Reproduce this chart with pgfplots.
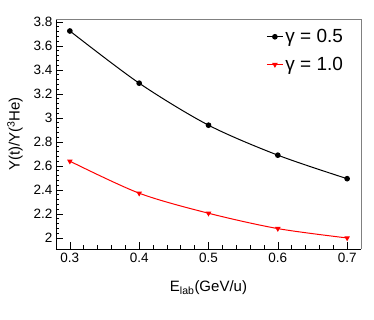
\documentclass[border=0pt]{standalone}
\usepackage{pgfplots}
\pgfplotsset{compat=1.18}
\usepackage{fontspec}
\setmainfont{Liberation Sans}
\begin{document}
\begin{tikzpicture}
\begin{axis}[
  scale only axis,
  width=305pt, height=230pt,
  xmin=0.28, xmax=0.72,
  ymin=1.908, ymax=3.825,
  axis x line*=bottom, axis y line*=left,
  axis line style={line width=0.8pt},
  tick align=inside,
  xtick={0.3,0.4,...,0.7},
  ytick={2,2.2,...,3.8},
  minor x tick num=4, minor y tick num=4,
  major tick length=7pt, minor tick length=3.5pt,
  tick style={black, line width=0.6pt},
  /pgf/number format/assume math mode=true,
  xticklabel style={font=\fontsize{13.5}{15}\selectfont, /pgf/number format/fixed, /pgf/number format/precision=1, yshift=-1pt},
  yticklabel style={font=\fontsize{13.5}{15}\selectfont, /pgf/number format/fixed, /pgf/number format/precision=1},
  xlabel={E\textsubscript{lab}(GeV/u)},
  ylabel={Y(t)/Y(\textsuperscript{3}He)},
  label style={font=\fontsize{15}{17}\selectfont},
  xlabel style={yshift=-11pt},
  ylabel style={yshift=4pt},
  legend style={draw=none, fill=none, at={(axis description cs:0.948,0.96)}, anchor=north east,
    font=\fontsize{19}{21}\selectfont, row sep=11pt, inner sep=0pt,
    nodes={inner xsep=2pt, inner ysep=1pt}},
  legend cell align=left,
  legend image code/.code={
    \draw[mark repeat=2,mark phase=2] plot coordinates {(0cm,0cm) (0.28cm,0cm) (0.56cm,0cm)};
  },
  after end axis/.code={
    \draw[gray, line width=0.8pt] (rel axis cs:0,1) -- (rel axis cs:1,1) -- (rel axis cs:1,0);
  },
]
\addplot[black, line width=1pt, smooth, mark=*, mark size=2.3pt] coordinates {
  (0.3,3.725) (0.4,3.29) (0.5,2.94) (0.6,2.69) (0.7,2.494)};
\addlegendentry{γ = 0.5}
\addplot[red, line width=1pt, smooth, mark=triangle*, mark size=2.3pt, mark options={rotate=180}] coordinates {
  (0.3,2.64) (0.4,2.373) (0.5,2.206) (0.6,2.078) (0.7,2.0)};
\addlegendentry{γ = 1.0}
\end{axis}
\pgfresetboundingbox
\path ([shift={(-56pt,-71pt)}]current axis.south west) rectangle ([shift={(13pt,19pt)}]current axis.north east);
\end{tikzpicture}
\end{document}
